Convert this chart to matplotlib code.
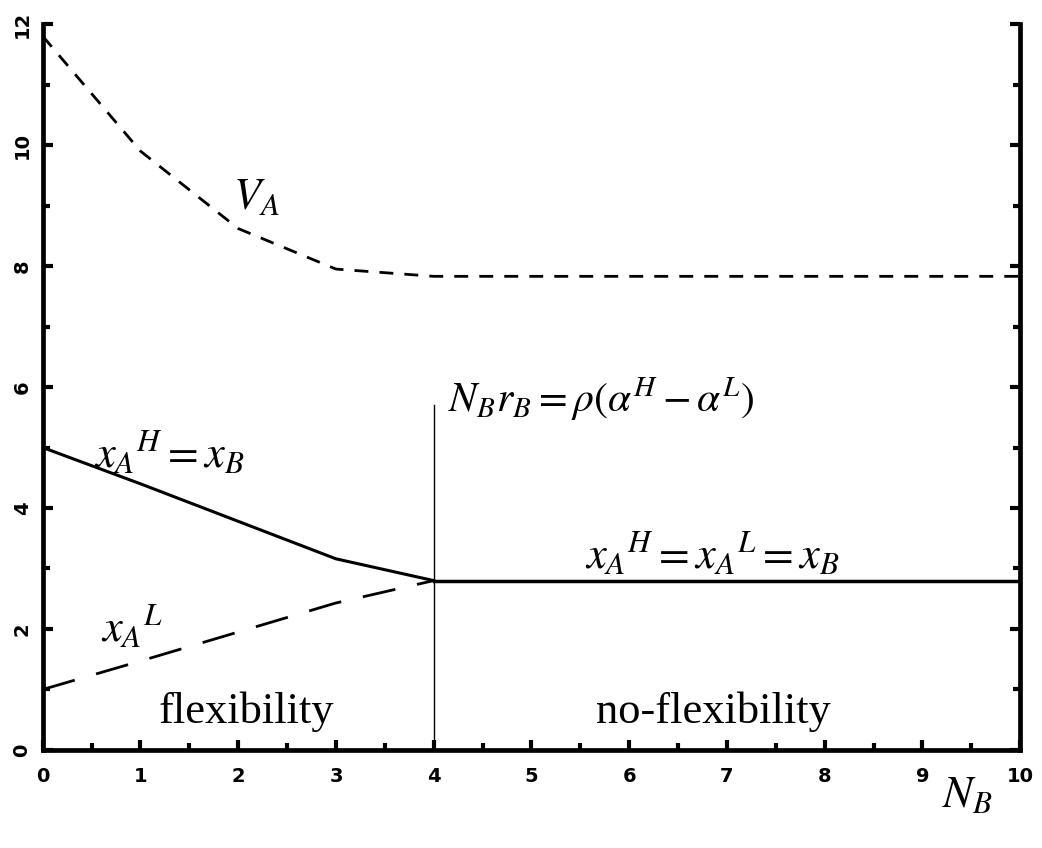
import matplotlib
matplotlib.use("Agg")
import matplotlib.pyplot as plt
from matplotlib.ticker import MultipleLocator

plt.rcParams["mathtext.fontset"] = "stix"
plt.rcParams["font.family"] = "Liberation Serif"

# datos
nb = [0, 1, 2, 3, 4, 5, 6, 7, 8, 9, 10]
v_a = [11.8, 9.9, 8.62, 7.95, 7.83, 7.83, 7.83, 7.83, 7.83, 7.83, 7.83]
nb_flex = [0, 1, 2, 3, 4]
x_h = [5.0, 4.4, 3.78, 3.16, 2.8]
x_l = [1.0, 1.47, 1.95, 2.43, 2.8]
nb_noflex = [4, 10]
x_same = [2.8, 2.8]
nb_limit = 4
limit_top = 5.7

fig = plt.figure(figsize=(10.42, 8.48), dpi=100)
ax = fig.add_axes([0.041, 0.1156, 0.938, 0.856])

ax.plot(nb, v_a, color="black", lw=2, dashes=(5, 4))
ax.plot(nb_flex, x_h, color="black", lw=2.2)
ax.plot(nb_flex, x_l, color="black", lw=2, dashes=(12, 8))
ax.plot(nb_noflex, x_same, color="black", lw=2.5)
ax.plot([nb_limit, nb_limit], [0, limit_top], color="black", lw=1)

ax.set_xlim(0, 10)
ax.set_ylim(0, 12)

ax.spines["top"].set_visible(False)
for s in ["left", "right", "bottom"]:
    ax.spines[s].set_linewidth(3.4)

ax.xaxis.set_major_locator(MultipleLocator(1))
ax.xaxis.set_minor_locator(MultipleLocator(0.5))
ax.yaxis.set_major_locator(MultipleLocator(2))
ax.yaxis.set_minor_locator(MultipleLocator(1))
ax.tick_params(which="both", direction="in", right=True, top=False, width=3)
ax.tick_params(which="major", length=7.5)
ax.tick_params(axis="x", which="major", pad=12)
ax.tick_params(axis="y", which="major", pad=8)
ax.tick_params(which="minor", length=5)
ax.tick_params(axis="y", which="both", labelright=False)

for lab in ax.get_xticklabels() + ax.get_yticklabels():
    lab.set_fontfamily("DejaVu Sans")
    lab.set_fontweight("bold")
    lab.set_fontsize(14)
for lab in ax.get_yticklabels():
    lab.set_rotation(90)
    lab.set_va("center")

fs = 32
ax.text(1.95, 8.95, r"$V_A$", fontsize=fs)
ax.text(0.52, 4.68, r"$x_A{}^H = x_B$", fontsize=fs)
ax.text(0.6, 1.8, r"$x_A{}^L$", fontsize=fs)
ax.text(4.15, 5.58, r"$N_B r_B = \rho(\alpha^H - \alpha^L)$", fontsize=30)
ax.text(5.55, 3.0, r"$x_A{}^H = x_A{}^L = x_B$", fontsize=fs)
ax.text(2.08, 0.45, "flexibility", fontsize=fs, ha="center")
ax.text(6.86, 0.45, "no-flexibility", fontsize=fs, ha="center")
ax.text(9.2, -0.95, r"$N_B$", fontsize=fs, ha="left")

plt.savefig("out.png", dpi=100)
